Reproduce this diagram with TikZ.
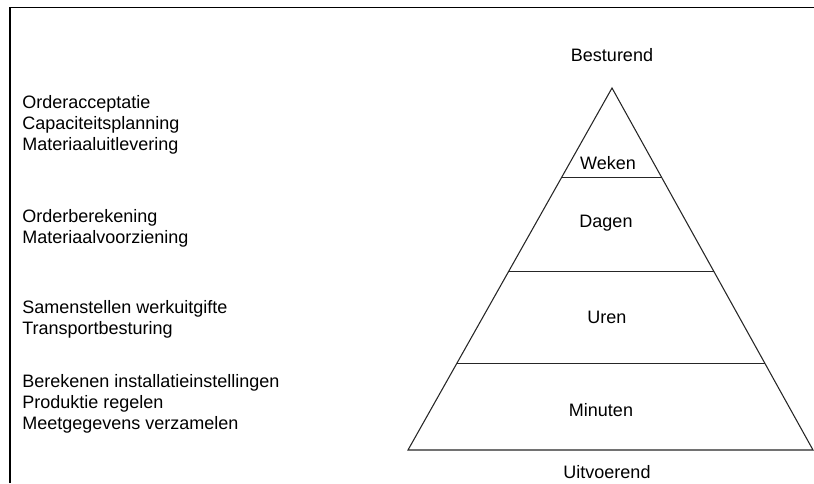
\documentclass[tikz,border=0pt]{standalone}
\usepackage{fontspec}
\setmainfont{Liberation Sans}
\usepackage{tikz}
\usetikzlibrary{calc}

\tikzset{
  lbl/.style={inner sep=0.75pt, font=\fontsize{13.5}{15.75}\selectfont},
  tasks/.style={lbl, anchor=north west, align=left},
  layer/.style={line width=0.8pt, color=black!85}
}

\begin{document}
\begin{tikzpicture}[x=0.75pt,y=0.75pt,yscale=-1,xscale=1]
        \useasboundingbox (0,0) rectangle (814,483);
        % frame
        \draw [line width=1.2pt]   (10,483) -- (10,7.5) -- (814,7.5) ;
        % pyramid
        \coordinate (apex) at (612,88);
        \coordinate (bl) at (408,450);
        \coordinate (br) at (813,450);
        \draw [layer]   (apex) -- (bl) -- (br) -- cycle ;
        \draw [layer]   ($(apex)!0.246!(bl)$) -- ($(apex)!0.246!(br)$) ;
        \draw [layer]   ($(apex)!0.506!(bl)$) -- ($(apex)!0.506!(br)$) ;
        \draw [layer]   ($(apex)!0.76!(bl)$) -- ($(apex)!0.76!(br)$) ;

        \node (top) at (612,55) [lbl] {Besturend};
        \node (weken) at (608,163) [lbl] {Weken};
        \node (dagen) at (606,223) [lbl] {Dagen};
        \node (uren) at (607,317) [lbl] {Uren};
        \node (minuten) at (601,410) [lbl] {Minuten};
        \node (bottom) at (607,472) [lbl] {Uitvoerend};

        \node (t1) at (21,94) [tasks] {Orderacceptatie\\Capaciteitsplanning\\Materiaaluitlevering};
        \node (t2) at (21,208) [tasks] {Orderberekening\\Materiaalvoorziening};
        \node (t3) at (21,299) [tasks] {Samenstellen werkuitgifte\\Transportbesturing};
        \node (t4) at (21,373) [tasks] {Berekenen installatieinstellingen\\Produktie regelen\\Meetgegevens verzamelen};
    \end{tikzpicture}
\end{document}
